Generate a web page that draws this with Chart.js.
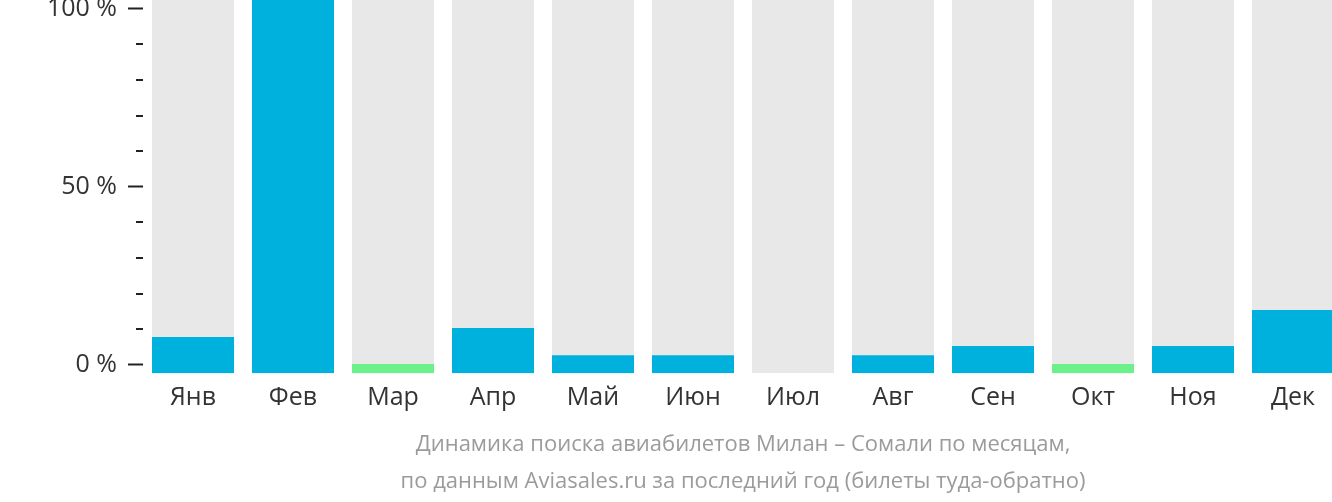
<!DOCTYPE html>
<html>
<head>
<meta charset="utf-8">
<script src="https://cdn.jsdelivr.net/npm/chart.js@4/dist/chart.umd.min.js"></script>
<style>
  html, body { margin: 0; padding: 0; background: #fff; overflow: hidden; }
  #wrap { width: 1332px; height: 502px; overflow: hidden; }
  canvas { display: block; }
</style>
</head>
<body>
<div id="wrap"><canvas id="chart" width="1343" height="502"></canvas></div>
<script>
// Data (share of searches, %)
const months = ["Янв", "Фев", "Мар", "Апр", "Май", "Июн", "Июл", "Авг", "Сен", "Окт", "Ноя", "Дек"];
const shares = [7.8, 102.5, 0.2, 10.3, 2.7, 2.7, 0, 2.7, 5.3, 0.2, 5.3, 15.4];
const greenMonths = ["Мар", "Окт"];
const yTicks = [0, 10, 20, 30, 40, 50, 60, 70, 80, 90, 100];
const titleLines = [
  "Динамика поиска авиабилетов Милан – Сомали по месяцам,",
  "по данным Aviasales.ru за последний год (билеты туда-обратно)"
];

// bars start a bit under zero, like in the original
const axisMin = -2.4;
const axisMax = 102.5;

const font = "'Open Sans', 'Noto Sans', sans-serif";

// short ticks between the labelled ones
const minorTicks = {
  id: "minorTicks",
  afterDraw(chart) {
    const y = chart.scales.y;
    const ctx = chart.ctx;
    ctx.save();
    ctx.strokeStyle = "#222";
    ctx.lineWidth = 2;
    for (const t of y.ticks) {
      if (t.value % 50 === 0) continue;
      const py = Math.round(y.getPixelForValue(t.value));
      ctx.beginPath();
      ctx.moveTo(y.right - 7, py);
      ctx.lineTo(y.right, py);
      ctx.stroke();
    }
    ctx.restore();
  }
};

new Chart(document.getElementById("chart"), {
  type: "bar",
  data: {
    labels: months,
    datasets: [
      {
        data: shares.map(v => (v ? [axisMin, v] : null)),
        backgroundColor: months.map(m => (greenMonths.includes(m) ? "#6cf08a" : "#01b1dd")),
        grouped: false,
        order: 1,
        barPercentage: 0.82,
        categoryPercentage: 1
      },
      {
        data: months.map(() => [axisMin, axisMax]),
        backgroundColor: "#e8e8e8",
        grouped: false,
        order: 2,
        barPercentage: 0.82,
        categoryPercentage: 1
      }
    ]
  },
  options: {
    responsive: false,
    animation: false,
    devicePixelRatio: 1,
    layout: { padding: 0 },
    plugins: {
      legend: { display: false },
      tooltip: { enabled: false },
      title: {
        display: true,
        position: "bottom",
        fullSize: false,
        text: titleLines,
        color: "#9b9b9b",
        font: { family: font, size: 22, weight: "normal", lineHeight: 1.682 },
        padding: { top: 4.3, bottom: 2 }
      }
    },
    scales: {
      x: {
        grid: { display: false, drawTicks: false },
        border: { display: false },
        ticks: {
          color: "#333",
          padding: 9.2,
          font: { family: font, size: 25 }
        },
        afterFit(scale) {
          scale.paddingLeft = 0;
          scale.paddingRight = 0;
        }
      },
      y: {
        min: axisMin,
        max: axisMax,
        border: { display: false },
        grid: {
          drawOnChartArea: false,
          drawTicks: true,
          tickLength: 15,
          tickWidth: 2,
          tickColor: ctx => (ctx.tick && ctx.tick.value % 50 === 0 ? "#222" : "transparent")
        },
        ticks: {
          color: "#333",
          padding: 11,
          font: { family: font, size: 25 },
          callback: v => (v % 50 === 0 ? v + " %" : "")
        },
        afterBuildTicks(scale) {
          scale.ticks = yTicks.map(v => ({ value: v }));
        },
        afterFit(scale) {
          scale.width = 143;
          scale.paddingTop = 0;
          scale.paddingBottom = 0;
        }
      }
    }
  },
  plugins: [minorTicks]
});
</script>
</body>
</html>
